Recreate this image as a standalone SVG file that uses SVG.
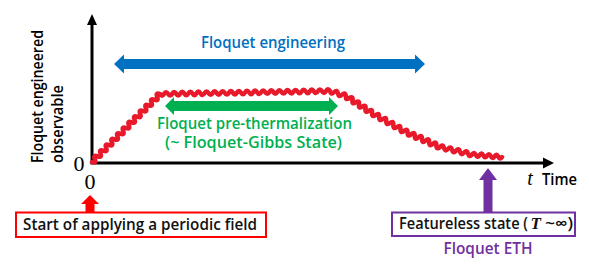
<svg xmlns="http://www.w3.org/2000/svg" width="589" height="264" viewBox="0 0 589 264">
<style>
.sans{font-family:"Open Sans","Liberation Sans",Arial,sans-serif;font-weight:600;font-size:16px}
.serif{font-family:"Liberation Serif","Times New Roman",serif}
.axis{stroke:#000;stroke-width:3;fill:none}
.box{fill:#fff;stroke-width:2}
</style>
<rect width="589" height="264" fill="#fff"/>
<g id="axes">
<line class="axis" x1="92" y1="164" x2="92" y2="22"/>
<polygon points="92,14 87,25 97,25" fill="#000"/>
<line class="axis" x1="90.5" y1="163" x2="545" y2="163"/>
<polygon points="554,163 543,157.5 543,168.5" fill="#000"/>
<text class="serif" x="79" y="171" font-size="22" text-anchor="middle">0</text>
<text class="serif" x="90" y="189" font-size="22" text-anchor="middle">0</text>
<text class="serif" x="530" y="185" font-size="20" font-style="italic" text-anchor="middle">t</text>
<text class="sans" x="542" y="185" font-size="15.5" textLength="35" lengthAdjust="spacingAndGlyphs">Time</text>
<text class="sans" transform="translate(43,163) rotate(-90)" font-size="15" textLength="133" lengthAdjust="spacingAndGlyphs">Floquet engineered</text>
<text class="sans" transform="translate(63,163) rotate(-90)" font-size="15" textLength="78" lengthAdjust="spacingAndGlyphs">observable</text>
</g>
<g id="curve">
<path fill="none" stroke="#e8192a" stroke-width="4.5" stroke-linecap="round" stroke-linejoin="round" d="M92,162 q4.60,1.77 2.833,-2.833 t2.833,-2.833 2.833,-2.833 2.833,-2.833 2.833,-2.833 2.833,-2.833
2.833,-2.833 2.833,-2.833 2.833,-2.833 2.833,-2.833 2.833,-2.833
2.833,-2.833 2.833,-2.833 2.833,-2.833 2.833,-2.833 2.833,-2.833
2.833,-2.833 2.833,-2.833 2.833,-2.833 2.833,-2.833 2.833,-2.833
2.833,-2.833 2.833,-2.833 2.833,-2.833
q2.08,3.46 4.048,-0.071 t4.048,-0.071 4.048,-0.071 4.048,-0.071 4.048,-0.071 4.048,-0.071
4.048,-0.071 4.048,-0.071 4.048,-0.071 4.048,-0.071 4.048,-0.071
4.048,-0.071 4.048,-0.071 4.048,-0.071 4.048,-0.071 4.048,-0.071
4.048,-0.071 4.048,-0.071 4.048,-0.071 4.048,-0.071 4.048,-0.071
4.048,-0.071 4.048,-0.071 4.048,-0.071 4.048,-0.071 4.048,-0.071
4.048,-0.071 4.048,-0.071 4.048,-0.071 4.048,-0.071 4.048,-0.071
4.048,-0.071 4.048,-0.071 4.048,-0.071 4.048,-0.071 4.048,-0.071
4.048,-0.071 4.048,-0.071 4.048,-0.071 4.048,-0.071 4.048,-0.071
4.048,-0.071
q0.81,4.44 4,1.25 t4,1.25 4,1.25 4,1.25
q-0.84,4.83 3.25,2.125 t3.25,2.125 3.25,2.125 3.25,2.125 3.25,2.125 3.25,2.125 3.25,2.125 3.25,2.125
q-0.43,4.92 3.556,2 t3.556,2 3.556,2 3.556,2 3.556,2 3.556,2 3.556,2 3.556,2 3.556,2
q3.63,-3.31 3.6,1.6 t3.6,1.6 3.6,1.6 3.6,1.6 3.6,1.6 3.6,1.6 3.6,1.6 3.6,1.6 3.6,1.6 3.6,1.6
q2.91,-3.43 4,0.9375 t4,0.9375 4,0.9375 4,0.9375 4,0.9375 4,0.9375 4,0.9375 4,0.9375
q2.17,-3.33 3.75,0.3125 t3.75,0.3125 3.75,0.3125 3.75,0.3125 3.75,0.3125 3.75,0.3125 3.75,0.3125 3.75,0.3125"/>
</g>
<g id="floquet-engineering">
<polygon fill="#0070c0" points="114,64 124,54.5 124,59 415,59 415,54.5 425,64 415,73.5 415,69 124,69 124,73.5"/>
<text class="sans" x="273" y="48" fill="#0070c0" text-anchor="middle" textLength="144" lengthAdjust="spacingAndGlyphs">Floquet engineering</text>
</g>
<g id="prethermalization">
<polygon fill="#00b050" points="165,106 174,97 174,101 329,101 329,97 338,106 329,115 329,111 174,111 174,115"/>
<text class="sans" x="254.5" y="129" fill="#00b050" text-anchor="middle" textLength="195" lengthAdjust="spacingAndGlyphs">Floquet pre-thermalization</text>
<text class="sans" x="253.5" y="147.5" fill="#00b050" text-anchor="middle" textLength="177" lengthAdjust="spacingAndGlyphs">(~ Floquet-Gibbs State)</text>
</g>
<g id="connectors">
<polygon fill="#ff0000" points="90,195 99,204 94.5,204 94.5,212 85.5,212 85.5,204 81,204"/>
<polygon fill="#7030a0" points="488,168 497,180 492.5,180 492.5,212 483.5,212 483.5,180 479,180"/>
</g>
<g id="start-box">
<rect class="box" x="16" y="212.5" width="250" height="24.5" stroke="#ff0000"/>
<text class="sans" x="23" y="229.5" fill="#111" font-size="15.5" textLength="234" lengthAdjust="spacingAndGlyphs">Start of applying a periodic field</text>
</g>
<g id="featureless-box">
<rect class="box" x="392" y="212.5" width="183" height="23.5" stroke="#7030a0"/>
<text class="sans" x="399" y="229" fill="#111" textLength="129" lengthAdjust="spacingAndGlyphs">Featureless state (</text>
<text class="serif" x="530.5" y="229" font-size="17" font-style="italic" font-weight="bold" fill="#111">T</text>
<text class="sans" x="545" y="229" fill="#111" textLength="28" lengthAdjust="spacingAndGlyphs">~∞)</text>
<text class="sans" x="488" y="253.5" fill="#7030a0" font-size="15.5" text-anchor="middle" textLength="89" lengthAdjust="spacingAndGlyphs">Floquet ETH</text>
</g>
</svg>
